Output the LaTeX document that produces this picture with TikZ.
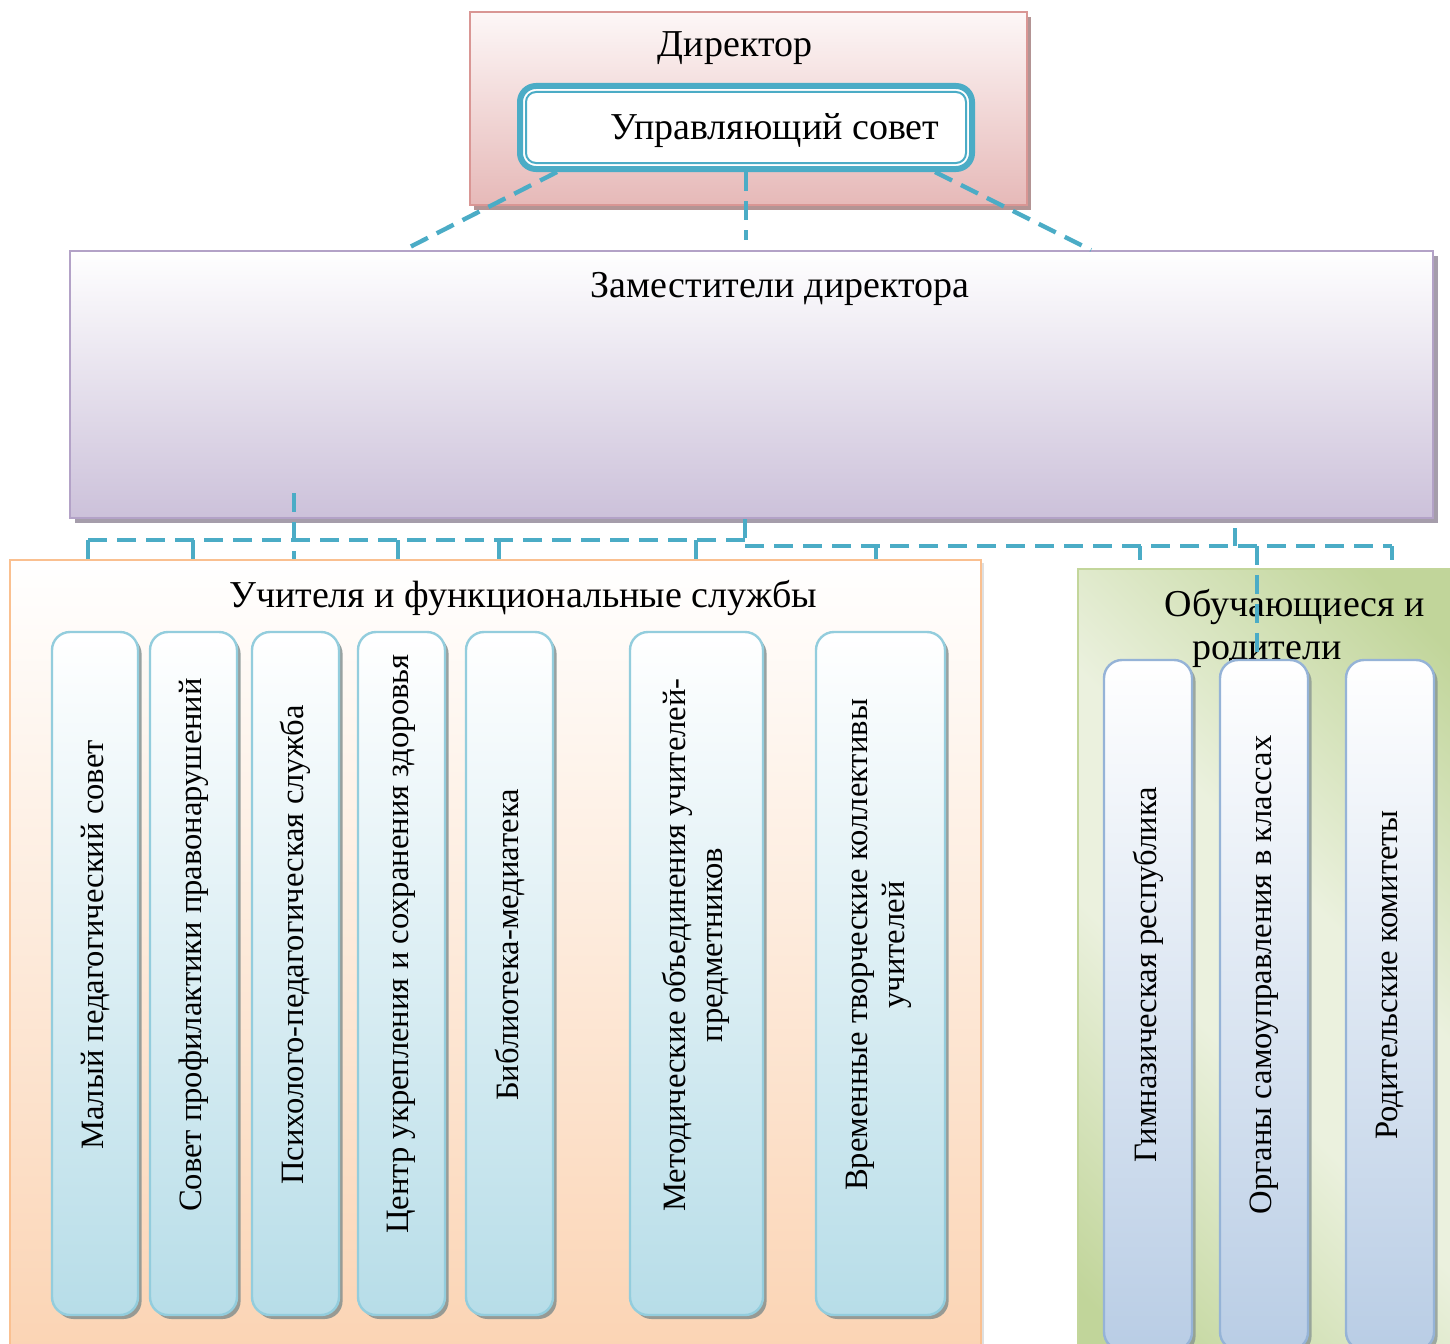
\documentclass[tikz,border=0pt]{standalone}
\usepackage{fontspec}
\setmainfont{Liberation Serif}
\usetikzlibrary{shadows,calc}
\definecolor{tealline}{HTML}{4BACC6}
\definecolor{dirborder}{HTML}{D99694}
\definecolor{dirtop}{HTML}{FDF7F7}
\definecolor{dirbot}{HTML}{E6B9B8}
\definecolor{dirshadow}{HTML}{B39494}
\definecolor{zamborder}{HTML}{B3A2C7}
\definecolor{zambot}{HTML}{CCC1DA}
\definecolor{zamshadow}{HTML}{A59DAB}
\definecolor{orborder}{HTML}{FAC090}
\definecolor{orbot}{HTML}{FBD4B4}
\definecolor{grborder}{HTML}{C3D69B}
\definecolor{grdark}{HTML}{C1D59A}
\definecolor{grlight}{HTML}{EBF1DE}
\definecolor{tcolborder}{HTML}{93CDDD}
\definecolor{tcolbot}{HTML}{B7DDE8}
\definecolor{bcolborder}{HTML}{95B3D7}
\definecolor{bcolbot}{HTML}{B9CDE5}
\definecolor{colshadow}{HTML}{7F8C8C}
\pgfdeclareverticalshading{grshade}{100bp}{color(0bp)=(grdark); color(18bp)=(grdark); color(42bp)=(grlight); color(56bp)=(grlight); color(80bp)=(grdark); color(100bp)=(grdark)}
\begin{document}
\begin{tikzpicture}[x=0.5pt,y=-0.5pt,
  titletext/.style={font=\fontsize{19}{21.5}\selectfont, inner sep=0pt},
  vtext/.style={font=\fontsize{16.3}{18.5}\selectfont, rotate=90, align=center, inner sep=0pt},
  dirbox/.style={draw=dirborder, line width=1pt, top color=dirtop, bottom color=dirbot,
    minimum width=278.5pt, minimum height=96.5pt, inner sep=0pt,
    drop shadow={shadow xshift=2pt, shadow yshift=-2.5pt, fill=dirshadow, opacity=1}},
  usbox/.style={draw=tealline, line width=3pt, fill=white, rounded corners=8pt,
    minimum width=226pt, minimum height=41.5pt, inner sep=0pt},
  zambox/.style={draw=zamborder, line width=1pt, top color=white, bottom color=zambot,
    minimum width=681.5pt, minimum height=133.5pt, inner sep=0pt,
    drop shadow={shadow xshift=2.5pt, shadow yshift=-2.5pt, fill=zamshadow, opacity=1}},
  orbox/.style={draw=orborder, line width=1pt, top color=white, bottom color=orbot,
    minimum width=485.5pt, minimum height=395pt, inner sep=0pt,
    drop shadow={shadow xshift=1.5pt, shadow yshift=-1.5pt, opacity=0.25}},
  grbox/.style={draw=grborder, line width=1pt, shade, shading=grshade,
    shading angle=-45, minimum width=191pt, minimum height=390.5pt, inner sep=0pt},
  tcol/.style={draw=tcolborder, line width=1.2pt, top color=white, bottom color=tcolbot,
    rounded corners=9pt, minimum height=341.5pt, inner sep=0pt,
    drop shadow={shadow xshift=1.8pt, shadow yshift=-2pt, fill=colshadow, opacity=0.8}},
  bcol/.style={draw=bcolborder, line width=1.2pt, top color=white, bottom color=bcolbot,
    rounded corners=9pt, minimum width=44pt, minimum height=345pt, inner sep=0pt,
    drop shadow={shadow xshift=1.8pt, shadow yshift=-2pt, fill=colshadow, opacity=0.7}},
  dl/.style={draw=tealline, line width=2.2pt, dash pattern=on 9.5pt off 5pt}
]
\useasboundingbox (0,0) rectangle (1450,1343);

% Director
\node[dirbox] (dir) at (748.5,108.5) {};
\node[titletext] (dirt) at (735,48) {Директор};
\node[usbox] (us) at (746,127.5) {};
\draw[tealline, line width=1pt, rounded corners=5pt] ($(us.north west)+(9,9)$) rectangle ($(us.south east)+(-9,-9)$);
\node[titletext] (ust) at (775,131) {Управляющий совет};

% Deputies
\node[zambox] (zam) at (751.5,384.5) {};
\node[titletext] (zamt) at (780,289) {Заместители директора};

% Teachers and services
\node[orbox] (orange) at (495.5,955) {};
\node[titletext] (ort) at (523,598) {Учителя и функциональные службы};

\node[tcol, minimum width=43pt] (c1) at (95,973.5) {};
\node[tcol, minimum width=43.5pt] (c2) at (193.5,973.5) {};
\node[tcol, minimum width=43.5pt] (c3) at (295.5,973.5) {};
\node[tcol, minimum width=43.5pt] (c4) at (401.5,973.5) {};
\node[tcol, minimum width=43.5pt] (c5) at (509.5,973.5) {};
\node[tcol, minimum width=66.5pt] (c6) at (696.5,973.5) {};
\node[tcol, minimum width=64.5pt] (c7) at (880.5,973.5) {};

\node[vtext] (t1) at (95,945) {Малый педагогический совет};
\node[vtext] (t2) at (193.5,945) {Совет профилактики правонарушений};
\node[vtext] (t3) at (295.5,945) {Психолого-педагогическая служба};
\node[vtext] (t4) at (401.5,944) {Центр укрепления и сохранения здоровья};
\node[vtext] (t5) at (509.5,945) {Библиотека-медиатека};
\node[vtext] (t6) at (695.5,945) {Методические объединения учителей-\\предметников};
\node[vtext] (t7) at (879,945) {Временные творческие коллективы\\учителей};

% Students and parents
\node[grbox] (green) at (1269,959.5) {};
\node[titletext] (grt1) at (1295,607) {Обучающиеся и};
\node[titletext] (grt2) at (1267,655) {родители};

\node[bcol] (g1) at (1148,1005) {};
\node[bcol] (g2) at (1264,1005) {};
\node[bcol] (g3) at (1390,1005) {};
\node[vtext] (s1) at (1148,975) {Гимназическая республика};
\node[vtext] (s2) at (1264,975) {Органы самоуправления в классах};
\node[vtext] (s3) at (1390,975) {Родительские комитеты};

% Connectors from the council
\draw[dl] ($(us.south west)+(40,0)$) -- ($(zam.north west)+(335,0)$);
\coordinate (midend) at ($(us.south)+(0,68)$);
\draw[dl] (us.south) -- (midend);
\draw[dl] ($(us.south east)+(-40,0)$) -- ($(zam.north east)+(-343,0)$);

% Bus lines
\coordinate (k1) at (88,540);
\coordinate (k2) at (193,540);
\coordinate (k3) at (294,493);
\coordinate (k4) at (398,540);
\coordinate (k5) at (499,540);
\coordinate (k6) at (696,540);
\coordinate (bm) at (745,540);
\coordinate (bm2) at (745,546);
\coordinate (k7) at (876,546);
\coordinate (k8) at (1140,546);
\coordinate (k9) at (1235,546);
\coordinate (k10) at (1257,546);
\coordinate (br) at (1392,546);

\draw[dl] (k1) -- (bm);
\draw[dl] (zam.south -| bm) -- (bm2);
\draw[dl] (bm2) -- (br);
\draw[dl] (k1) -- (k1 |- orange.north);
\draw[dl] (k2) -- (k2 |- orange.north);
\draw[dl] (k3) -- (k3 |- orange.north);
\draw[dl] (k4) -- (k4 |- orange.north);
\draw[dl] (k5) -- (k5 |- orange.north);
\draw[dl] (k6) -- (k6 |- orange.north);
\draw[dl] (k7) -- (k7 |- orange.north);
\draw[dl] (k8) -- ++(0,14);
\draw[dl] (k9) -- ++(0,-18);
\draw[dl] (k10) -- (k10 |- g2.north);
\draw[dl] (br) -- ++(0,14);
\end{tikzpicture}
\end{document}
